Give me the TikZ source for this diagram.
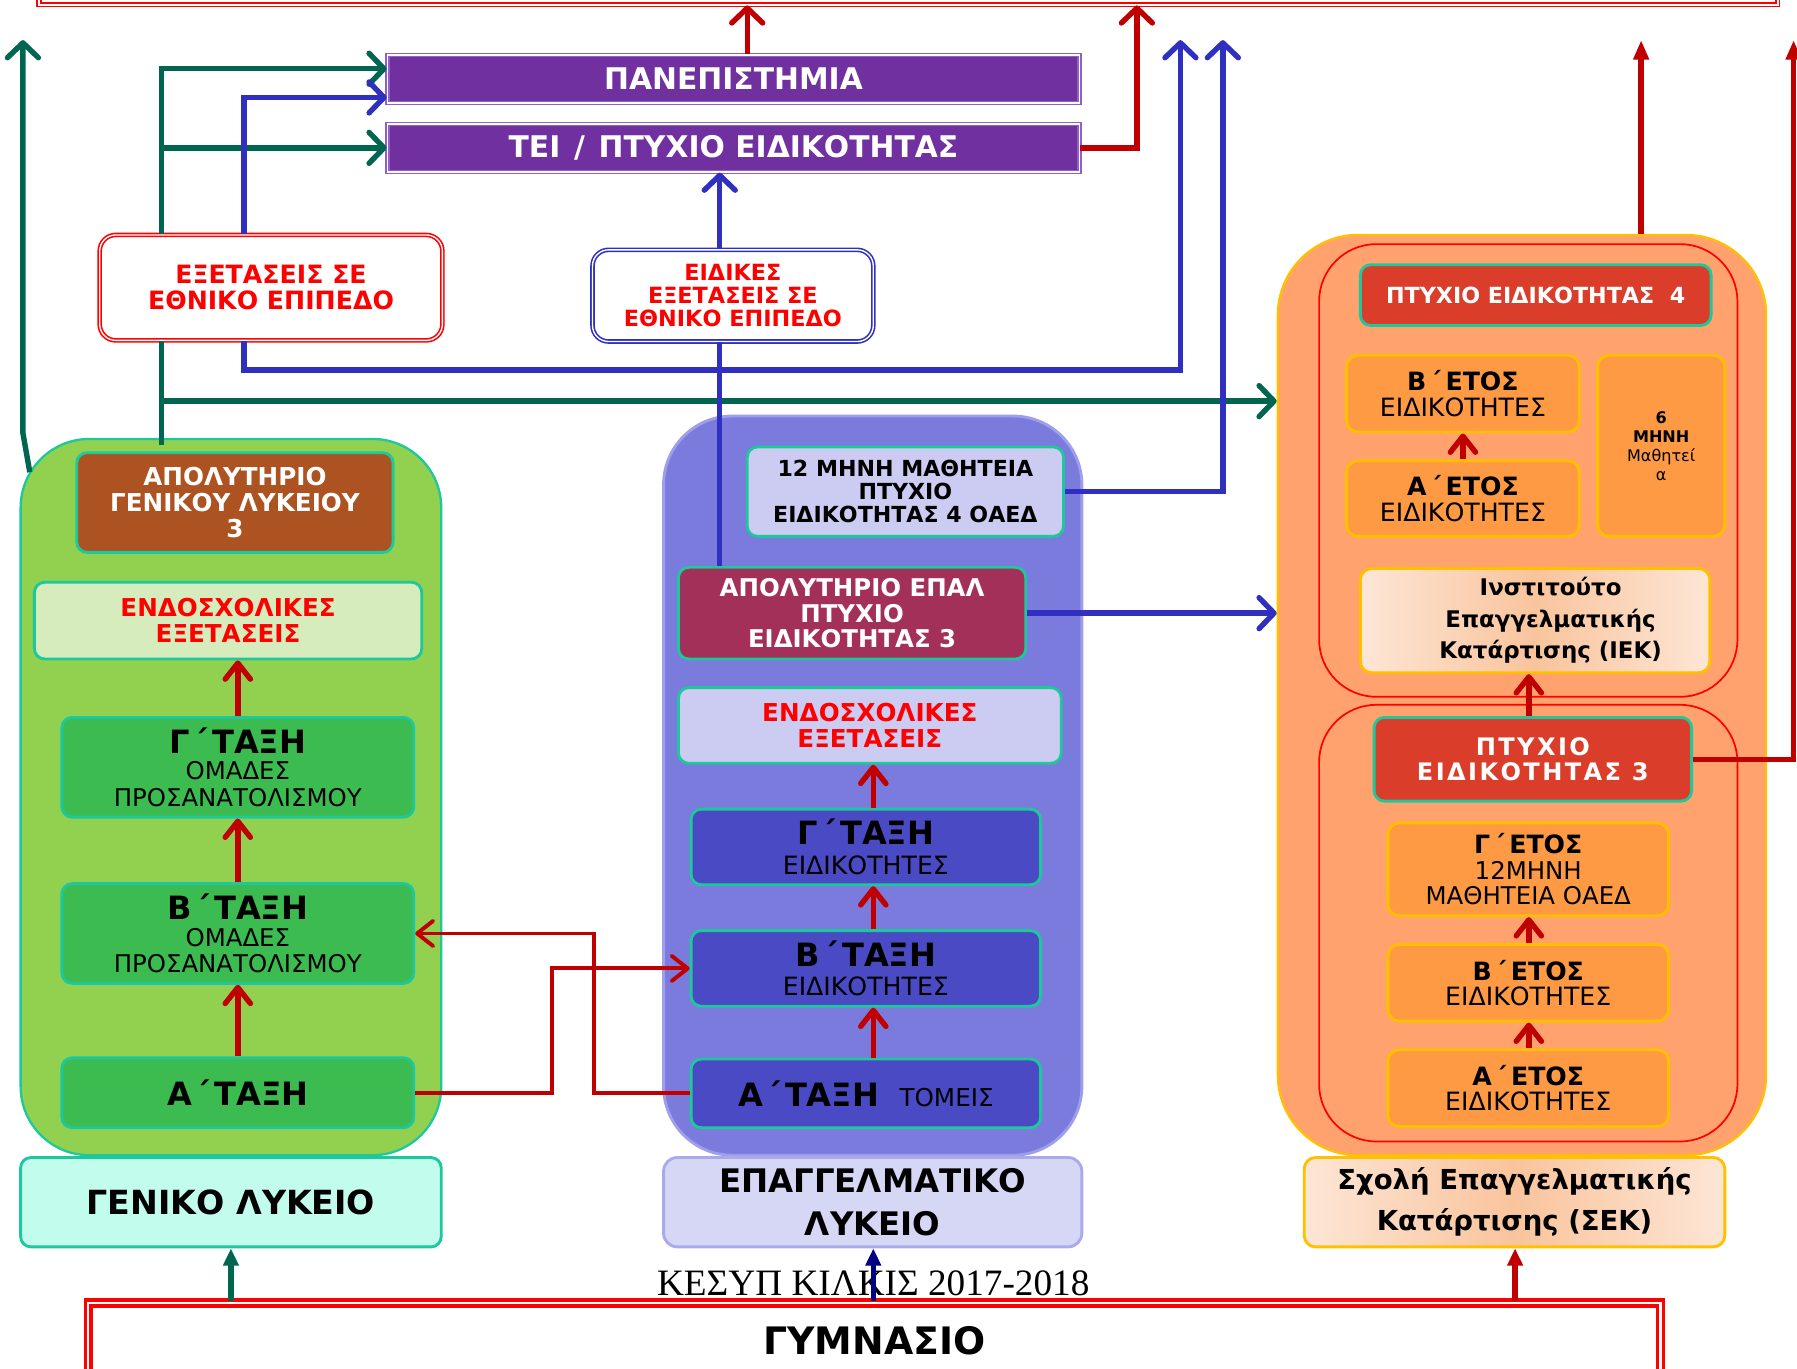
\documentclass[tikz,border=0pt]{standalone}
\usepackage{fontspec}
\setmainfont{DejaVu Sans}
\newfontfamily\capserif{Liberation Serif}
\usetikzlibrary{arrows.meta,calc}
\definecolor{gcol}{HTML}{00664F}
\definecolor{bcol}{HTML}{3030C0}
\definecolor{rcol}{HTML}{C00000}
\definecolor{ncol}{HTML}{000080}
\definecolor{purp}{HTML}{7030A0}
\definecolor{purpedge}{HTML}{9060C8}
\definecolor{tealc}{HTML}{1CC89C}
\definecolor{greenfill}{HTML}{92D050}
\definecolor{greenbox}{HTML}{3CBB50}
\definecolor{lightgreen}{HTML}{D6ECBC}
\definecolor{brown}{HTML}{AD5322}
\definecolor{cyanbox}{HTML}{C2FCEC}
\definecolor{bluefill}{HTML}{7B7BDE}
\definecolor{blueedge}{HTML}{9E9EEA}
\definecolor{lavender}{HTML}{CCCCF2}
\definecolor{maroon}{HTML}{A33058}
\definecolor{dblue}{HTML}{4A4AC4}
\definecolor{lylav}{HTML}{D6D6F5}
\definecolor{lyedge}{HTML}{AAAAEA}
\definecolor{orfill}{HTML}{FFA26E}
\definecolor{yel}{HTML}{FFC000}
\definecolor{orbox}{HTML}{FF9A44}
\definecolor{redbox}{HTML}{DA3E2B}
\definecolor{peachL}{HTML}{FDE6D6}
\definecolor{peachM}{HTML}{F9C49C}
\definecolor{txtred}{HTML}{FF0000}
\tikzset{
  every node/.style={inner sep=0pt, align=center},
  cont/.style={rectangle, line width=2pt},
  tealbox/.style={rectangle, draw=tealc, line width=2.5pt, rounded corners=9pt},
  yelbox/.style={rectangle, draw=yel, line width=2.5pt, rounded corners=10pt},
  purpbox/.style={rectangle, fill=purp, draw=purpedge, double=white, line width=1.2pt, double distance=1.5pt, text=white, font=\fontsize{26}{30}\selectfont\bfseries},
  barb/.style={-{Straight Barb[length=13pt,width=27pt,round]}},
  sbarb/.style={-{Straight Barb[length=14pt,width=22pt,round]}},
  tri/.style={-{Triangle[length=15pt,width=13pt]}},
  conn/.style={line width=4.7pt},
  thin conn/.style={line width=3.4pt},
  lab/.style={font=\fontsize{21.5}{23}\selectfont\bfseries},
}
\newcommand{\hd}[1]{{\fontsize{28}{28}\selectfont\bfseries #1}}
\newcommand{\hdo}[1]{{\fontsize{22}{22}\selectfont\bfseries #1}}
\newcommand{\tn}{\hspace{3pt}΄\hspace{4pt}}
\begin{document}
\begin{tikzpicture}[x=1pt,y=-1pt]
\useasboundingbox (0,0) rectangle (1568,1194);
% frames
\node[rectangle, draw=txtred, double=white, line width=1.4pt, double distance=1.8pt, minimum width=1517pt, minimum height=40pt] (topbar) at (792.5,-16) {};
\node[rectangle, draw=txtred, double=white, line width=3pt, double distance=2pt, minimum width=1372pt, minimum height=66pt, font=\fontsize{33}{36}\selectfont\bfseries] (gym) at (763,1170) {ΓΥΜΝΑΣΙΟ};
\node[font=\capserif\fontsize{32.5}{34}\selectfont] (cap) at (762,1120) {ΚΕΣΥΠ ΚΙΛΚΙΣ 2017-2018};
% top boxes
\node[purpbox, minimum width=604pt, minimum height=42pt] (uni) at (640,69) {ΠΑΝΕΠΙΣΤΗΜΙΑ};
\node[purpbox, minimum width=604pt, minimum height=42pt] (tei) at (640,129) {ΤΕΙ\hspace{12pt}/\hspace{12pt}ΠΤΥΧΙΟ ΕΙΔΙΚΟΤΗΤΑΣ};
\node[rectangle, rounded corners=14pt, fill=white, draw=txtred, double=white, line width=1.4pt, double distance=1.2pt, minimum width=299pt, minimum height=92pt, text=txtred, font=\fontsize{22}{23}\selectfont\bfseries] (exams) at (236.5,251) {ΕΞΕΤΑΣΕΙΣ ΣΕ\\ΕΘΝΙΚΟ ΕΠΙΠΕΔΟ};
\node[rectangle, rounded corners=14pt, fill=white, draw=bcol, double=white, line width=1.4pt, double distance=1.2pt, minimum width=245pt, minimum height=80pt, text=txtred, font=\fontsize{19.5}{20}\selectfont\bfseries] (spexams) at (639.5,258) {ΕΙΔΙΚΕΣ\\ΕΞΕΤΑΣΕΙΣ ΣΕ\\ΕΘΝΙΚΟ ΕΠΙΠΕΔΟ};
% general lyceum
\node[cont, fill=greenfill, draw=tealc, rounded corners=60pt, minimum width=367pt, minimum height=625pt] (greenC) at (201.5,695.5) {};
\node[tealbox, fill=brown, minimum width=276pt, minimum height=87pt, text=white, lab] (apolGL) at (205,438.5) {ΑΠΟΛΥΤΗΡΙΟ\\ΓΕΝΙΚΟΥ ΛΥΚΕΙΟΥ\\3};
\node[tealbox, fill=lightgreen, minimum width=338pt, minimum height=67pt, text=txtred, lab] (endoL) at (199,541.5) {ΕΝΔΟΣΧΟΛΙΚΕΣ\\ΕΞΕΤΑΣΕΙΣ};
\node[tealbox, fill=greenbox, minimum width=307pt, minimum height=87pt, font=\fontsize{21.3}{23}\selectfont] (gL) at (207.5,669.5) {\hd{Γ\tn ΤΑΞΗ}\\ΟΜΑΔΕΣ\\ΠΡΟΣΑΝΑΤΟΛΙΣΜΟΥ};
\node[tealbox, fill=greenbox, minimum width=307pt, minimum height=87pt, font=\fontsize{21.3}{23}\selectfont] (bL) at (207.5,814.5) {\hd{Β\tn ΤΑΞΗ}\\ΟΜΑΔΕΣ\\ΠΡΟΣΑΝΑΤΟΛΙΣΜΟΥ};
\node[tealbox, fill=greenbox, minimum width=307pt, minimum height=61pt, font=\fontsize{28}{30}\selectfont\bfseries] (aL) at (207.5,953.5) {Α\tn ΤΑΞΗ};
\node[tealbox, fill=cyanbox, minimum width=367pt, minimum height=78pt, font=\fontsize{29}{32}\selectfont\bfseries] (genlyk) at (201.5,1049) {ΓΕΝΙΚΟ ΛΥΚΕΙΟ};
% vocational lyceum
\node[cont, fill=bluefill, draw=blueedge, line width=2.5pt, rounded corners=60pt, minimum width=365pt, minimum height=645pt] (blueC) at (761.5,685.5) {};
\node[tealbox, fill=lavender, minimum width=276pt, minimum height=78pt, font=\fontsize{19.3}{20}\selectfont\bfseries] (mathA) at (790,429) {12 ΜΗΝΗ ΜΑΘΗΤΕΙΑ\\ΠΤΥΧΙΟ\\ΕΙΔΙΚΟΤΗΤΑΣ 4 ΟΑΕΔ};
\node[tealbox, fill=maroon, minimum width=303pt, minimum height=80pt, text=white, font=\fontsize{21.3}{22.5}\selectfont\bfseries] (apolEPAL) at (743.5,535) {ΑΠΟΛΥΤΗΡΙΟ ΕΠΑΛ\\ΠΤΥΧΙΟ\\ΕΙΔΙΚΟΤΗΤΑΣ 3};
\node[tealbox, fill=lavender, minimum width=334pt, minimum height=66pt, text=txtred, lab] (endoM) at (759,633) {ΕΝΔΟΣΧΟΛΙΚΕΣ\\ΕΞΕΤΑΣΕΙΣ};
\node[tealbox, fill=dblue, minimum width=305pt, minimum height=66pt, font=\fontsize{22}{26}\selectfont] (gM) at (755.5,739) {\hd{Γ\tn ΤΑΞΗ}\\ΕΙΔΙΚΟΤΗΤΕΣ};
\node[tealbox, fill=dblue, minimum width=305pt, minimum height=66pt, font=\fontsize{22}{26}\selectfont] (bM) at (755.5,845) {\hd{Β\tn ΤΑΞΗ}\\ΕΙΔΙΚΟΤΗΤΕΣ};
\node[tealbox, fill=dblue, minimum width=305pt, minimum height=60pt, font=\fontsize{21.5}{23}\selectfont] (aM) at (755.5,954) {\hd{Α\tn ΤΑΞΗ}\hspace{18pt}ΤΟΜΕΙΣ};
\node[rectangle, rounded corners=12pt, fill=lylav, draw=lyedge, line width=2.5pt, minimum width=365pt, minimum height=78pt, font=\fontsize{28.3}{38}\selectfont\bfseries] (epallyk) at (761.5,1049) {ΕΠΑΓΓΕΛΜΑΤΙΚΟ\\ΛΥΚΕΙΟ};
% vocational training
\node[cont, fill=orfill, draw=yel, rounded corners=70pt, minimum width=426pt, minimum height=803pt] (orC) at (1328,606.5) {};
\node[rectangle, draw=txtred, line width=1.5pt, rounded corners=50pt, minimum width=365pt, minimum height=395pt] (redU) at (1333.5,410.5) {};
\node[rectangle, draw=txtred, line width=1.5pt, rounded corners=50pt, minimum width=365pt, minimum height=381pt] (redL) at (1333.5,805.5) {};
\node[tealbox, fill=redbox, minimum width=306pt, minimum height=53pt, text=white, font=\fontsize{19.4}{20}\selectfont\bfseries] (pt4) at (1340,257.5) {ΠΤΥΧΙΟ ΕΙΔΙΚΟΤΗΤΑΣ~~4};
\node[yelbox, fill=orbox, minimum width=203pt, minimum height=67pt, font=\fontsize{22}{23}\selectfont] (betos1) at (1276.5,343.5) {\hdo{Β\tn ΕΤΟΣ}\\ΕΙΔΙΚΟΤΗΤΕΣ};
\node[yelbox, fill=orbox, minimum width=203pt, minimum height=66pt, font=\fontsize{22}{23}\selectfont] (aetos1) at (1276.5,435) {\hdo{Α\tn ΕΤΟΣ}\\ΕΙΔΙΚΟΤΗΤΕΣ};
\node[yelbox, fill=orbox, minimum width=111pt, minimum height=158pt, font=\fontsize{14}{16.5}\selectfont] (six) at (1449.5,389) {\textbf{6}\\\textbf{ΜΗΝΗ}\\Μαθητεί\\α};
\node[yelbox, left color=peachL, right color=peachL, middle color=peachM, minimum width=305pt, minimum height=91pt] (iek) at (1339.5,541.5) {};
\node[font=\fontsize{20}{27.5}\selectfont\bfseries] (iektext) at (1353,541.5) {Ινστιτούτο\\Επαγγελματικής\\Κατάρτισης (ΙΕΚ)};
\node[tealbox, fill=redbox, minimum width=277pt, minimum height=73pt, text=white, font=\fontsize{21}{22}\selectfont\bfseries\addfontfeature{LetterSpace=10}] (pt3) at (1337.5,662.5) {ΠΤΥΧΙΟ\\ΕΙΔΙΚΟΤΗΤΑΣ 3};
\node[yelbox, fill=orbox, minimum width=245pt, minimum height=81pt, font=\fontsize{21.3}{22}\selectfont] (getos) at (1333.5,758.5) {\hdo{Γ\tn ΕΤΟΣ}\\12ΜΗΝΗ\\ΜΑΘΗΤΕΙΑ ΟΑΕΔ};
\node[yelbox, fill=orbox, minimum width=245pt, minimum height=67pt, font=\fontsize{22}{22}\selectfont] (betos2) at (1333.5,857.5) {\hdo{Β\tn ΕΤΟΣ}\\ΕΙΔΙΚΟΤΗΤΕΣ};
\node[yelbox, fill=orbox, minimum width=245pt, minimum height=67pt, font=\fontsize{22}{22}\selectfont] (aetos2) at (1333.5,949.5) {\hdo{Α\tn ΕΤΟΣ}\\ΕΙΔΙΚΟΤΗΤΕΣ};
\node[yelbox, left color=peachL, right color=peachL, middle color=peachM, minimum width=367pt, minimum height=78pt, font=\fontsize{24}{36}\selectfont\bfseries] (sek) at (1321.5,1049) {Σχολή Επαγγελματικής\\Κατάρτισης (ΣΕΚ)};
% helper coordinates
\coordinate (x141) at (141,0);
\coordinate (x213) at (213,0);
\coordinate (x628) at (628,0);
\coordinate (x652) at (652,0);
\coordinate (x762) at (762,0);
\coordinate (x992) at (992,0);
\coordinate (x1067) at (1067,0);
\coordinate (x1322) at (1322,0);
\coordinate (x1334) at (1334,0);
\coordinate (x1432) at (1432,0);
\coordinate (x1565) at (1565,0);
\coordinate (topL) at (20,35);
\coordinate (top1030) at (1030,35);
\coordinate (top1067) at (1067,35);
\coordinate (top1432) at (1432,35);
\coordinate (top1565) at (1565,35);
\coordinate (gbranch) at (141,350);
% green connectors
\draw[gcol, conn, barb] ([shift={(9pt,-30pt)}]greenC.north west) -- (20,378) -- (topL);
\draw[gcol, conn] ([yshift=-6pt]greenC.north -| x141) -- (exams.south -| x141);
\draw[gcol, conn, barb] (exams.north -| x141) -- (141,60) -- ([yshift=9pt]uni.west);
\draw[gcol, conn, barb] (tei.west -| x141) -- (tei.west);
\draw[gcol, conn, barb] (gbranch) -- (gbranch -| orC.west);
% blue connectors
\draw[bcol, conn, barb] (exams.north -| x213) -- (213,85) -- ([yshift=-16pt]uni.west);
\draw[bcol, conn, barb] (exams.south -| x213) -- (213,323) -- (1030,323) -- (top1030);
\draw[bcol, conn, barb] (spexams.north -| x628) -- (tei.south -| x628);
\draw[bcol, conn] (spexams.south -| x628) -- (apolEPAL.north -| x628);
\draw[bcol, conn, barb] (mathA.east) -- (mathA.east -| x1067) -- (top1067);
\draw[bcol, conn, barb] (apolEPAL.east) -- (apolEPAL.east -| orC.west);
% red connectors
\draw[rcol, conn, barb] (uni.north -| x652) -- (topbar.south -| x652);
\draw[rcol, conn, barb] (tei.east) -- (tei.east -| x992) -- (topbar.south -| x992);
\draw[rcol, conn, -{Triangle[length=17pt,width=13pt]}] (orC.north -| x1432) -- (top1432);
\draw[rcol, conn, -{Triangle[length=17pt,width=13pt]}] (pt3.east) -- (pt3.east -| x1565) -- (top1565);
\draw[rcol, conn, sbarb] (gL.north) -- (gL.north |- endoL.south);
\draw[rcol, conn, sbarb] (bL.north) -- (gL.south);
\draw[rcol, conn, sbarb] (aL.north) -- (bL.south);
\draw[rcol, conn, sbarb] (gM.north -| x762) -- (endoM.south -| x762);
\draw[rcol, conn, sbarb] (bM.north -| x762) -- (gM.south -| x762);
\draw[rcol, conn, sbarb] (aM.north -| x762) -- (bM.south -| x762);
\draw[rcol, conn, sbarb] (aetos1.north) -- (betos1.south);
\draw[rcol, conn, sbarb] (pt3.north -| x1334) -- (iek.south -| x1334);
\draw[rcol, conn, sbarb] (betos2.north -| x1334) -- (getos.south -| x1334);
\draw[rcol, conn, sbarb] (aetos2.north -| x1334) -- (betos2.south -| x1334);
\draw[rcol, thin conn, sbarb] (aL.east) -- (482,953.5) -- (482,845) -- (bM.west);
\draw[rcol, thin conn, sbarb] (aM.west) -- (518,954) -- (518,814.5) -- (bL.east);
% from gymnasium
\draw[gcol, conn, tri] (gym.north -| genlyk.south) -- (genlyk.south);
\draw[ncol, conn, tri] (gym.north -| x762) -- (epallyk.south -| x762);
\draw[rcol, conn, tri] (gym.north -| x1322) -- (sek.south -| x1322);
\end{tikzpicture}
\end{document}
